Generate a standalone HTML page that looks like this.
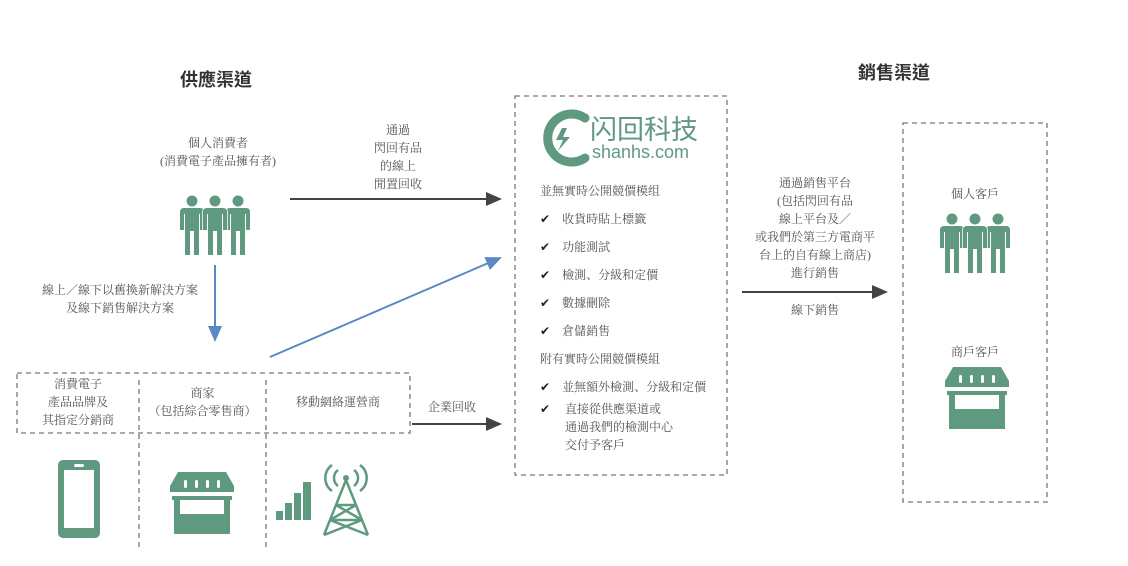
<!DOCTYPE html><html><head><meta charset="utf-8"><style>
body{margin:0;width:1128px;height:566px;background:#fff;position:relative;overflow:hidden;font-family:"Liberation Serif","Noto Serif CJK SC",serif;color:#555;font-size:12px}
.t{position:absolute;white-space:nowrap;line-height:18px}
.c{text-align:center}
.h{font-family:"Liberation Sans","Noto Sans CJK TC",sans-serif;font-weight:bold;font-size:18px;color:#333}
svg{position:absolute;left:0;top:0}
</style></head><body>
<svg width="1128" height="566">
<defs>
<marker id="a" markerWidth="8" markerHeight="8" refX="7" refY="4" orient="auto"><path d="M0,0.5 L8,4 L0,7.5z" fill="#444"/></marker>
<marker id="b" markerWidth="8" markerHeight="8" refX="7" refY="4" orient="auto"><path d="M0,0.5 L8,4 L0,7.5z" fill="#5b87c5"/></marker>
<g id="fig">
<circle cx="12" cy="6" r="5.5"/>
<path d="M4,13h16q4,0 4,4v18h-4v-16h-1v41h-5v-24h-4v24h-5v-41h-1v16h-4v-18q0-4 4-4z" stroke="#fff" stroke-width="1.5" paint-order="stroke"/>
</g>
<g id="ppl" fill="#5f9a80">
<use href="#fig" x="0" y="0"/><use href="#fig" x="46" y="0"/><use href="#fig" x="23" y="0"/>
</g>
<g id="store" fill="#5f9a80">
<path d="M8,0h48l8,14v6h-64v-6z"/>
<path d="M2,24h60v4h-2v34h-56v-34h-2z"/>
<rect x="10" y="28" width="44" height="14" fill="#fff"/>
<g fill="#fff"><rect x="14" y="8" width="3" height="8" rx="1.5"/><rect x="25" y="8" width="3" height="8" rx="1.5"/><rect x="36" y="8" width="3" height="8" rx="1.5"/><rect x="47" y="8" width="3" height="8" rx="1.5"/></g>
</g>
</defs>
<g fill="none" stroke="#777" stroke-width="1.3" stroke-dasharray="5,4">
<rect x="17" y="373" width="393" height="60"/>
<line x1="139" y1="380" x2="139" y2="548"/><line x1="266" y1="380" x2="266" y2="548"/>
<rect x="515" y="96" width="212" height="379"/>
<rect x="903" y="123" width="144" height="379"/>
</g>
<g stroke="#444" stroke-width="2">
<line x1="290" y1="199" x2="500" y2="199" marker-end="url(#a)"/>
<line x1="412" y1="424" x2="500" y2="424" marker-end="url(#a)"/>
<line x1="742" y1="292" x2="886" y2="292" marker-end="url(#a)"/>
</g>
<g stroke="#5b87c5" stroke-width="2">
<line x1="215" y1="265" x2="215" y2="340" marker-end="url(#b)"/>
<line x1="270" y1="357" x2="500" y2="258" marker-end="url(#b)"/>
</g>
<use href="#ppl" x="180" y="195"/>
<use href="#ppl" x="940" y="213"/>
<use href="#store" x="945" y="367"/>
<use href="#store" x="170" y="472"/>
<g fill="#5f9a80">
<rect x="58" y="460" width="42" height="78" rx="5"/>
<rect x="64" y="470" width="30" height="58" fill="#fff"/>
<rect x="74" y="464" width="10" height="3" rx="1.5" fill="#fff"/>
<rect x="276" y="511" width="7" height="9"/><rect x="285" y="503" width="7" height="17"/><rect x="294" y="493" width="7" height="27"/><rect x="303" y="482" width="8" height="38"/>
<circle cx="346" cy="478" r="3"/>
</g>
<g fill="none" stroke="#5f9a80" stroke-width="2.5">
<path d="M346,480 L324,535 M346,480 L368,535 M336,505h20 M330,520h32 M336,505 L362,520 M356,505 L330,520 M330,520 L368,535 M362,520 L324,535"/>
<path d="M338,470a10,10 0 0 0 0,16 M354,470a10,10 0 0 1 0,16 M332,465a16,16 0 0 0 0,26 M360,465a16,16 0 0 1 0,26"/>
</g>
<g>
<path d="M585,118 a24,24 0 1 0 0,40" fill="none" stroke="#5f9a80" stroke-width="9" stroke-linecap="round"/>
<path d="M562,128 l-6,12 h7 l-5,11 l12,-14 h-7 l4,-9z" fill="#5f9a80"/>
</g>
</svg>
<div class="t" style="left:590px;top:113px;font-family:'Noto Sans CJK SC',sans-serif;font-size:27px;line-height:30px;color:#5f9a80">闪回科技</div>
<div class="t" style="left:592px;top:143px;font-family:'Liberation Sans',sans-serif;font-size:18px;color:#5f9a80">shanhs.com</div>
<div class="t h" style="left:180px;top:71px">供應渠道</div>
<div class="t h" style="left:858px;top:64px">銷售渠道</div>
<div class="t c" style="left:140px;top:134px;width:156px">個人消費者<br>(消費電子產品擁有者)</div>
<div class="t c" style="left:340px;top:121px;width:116px">通過<br>閃回有品<br>的線上<br>閒置回收</div>
<div class="t c" style="left:30px;top:281px;width:180px">線上／線下以舊換新解決方案<br>及線下銷售解決方案</div>
<div class="t c" style="left:17px;top:375px;width:122px">消費電子<br>產品品牌及<br>其指定分銷商</div>
<div class="t c" style="left:139px;top:384px;width:127px">商家<br>（包括綜合零售商）</div>
<div class="t c" style="left:266px;top:393px;width:144px">移動網絡運營商</div>
<div class="t" style="left:428px;top:398px">企業回收</div>
<div class="t c" style="left:740px;top:174px;width:150px">通過銷售平台<br>(包括閃回有品<br>線上平台及／<br>或我們於第三方電商平<br>台上的自有線上商店)<br>進行銷售</div>
<div class="t c" style="left:740px;top:301px;width:150px">線下銷售</div>
<div class="t c" style="left:903px;top:185px;width:144px">個人客戶</div>
<div class="t c" style="left:903px;top:343px;width:144px">商戶客戶</div>
<div class="t" style="left:540px;top:177px;line-height:28px">並無實時公開競價模组<br>
<span style="color:#222">✔</span>&nbsp;&nbsp;&nbsp;&nbsp;收貨時貼上標籤<br>
<span style="color:#222">✔</span>&nbsp;&nbsp;&nbsp;&nbsp;功能測試<br>
<span style="color:#222">✔</span>&nbsp;&nbsp;&nbsp;&nbsp;檢測、分級和定價<br>
<span style="color:#222">✔</span>&nbsp;&nbsp;&nbsp;&nbsp;數據刪除<br>
<span style="color:#222">✔</span>&nbsp;&nbsp;&nbsp;&nbsp;倉儲銷售<br>
附有實時公開競價模組<br>
<span style="color:#222">✔</span>&nbsp;&nbsp;&nbsp;&nbsp;並無額外檢測、分級和定價</div>
<div class="t" style="left:540px;top:400px"><span style="color:#222">✔</span></div>
<div class="t" style="left:565px;top:400px">直接從供應渠道或<br>通過我們的檢測中心<br>交付予客戶</div>
</body></html>
